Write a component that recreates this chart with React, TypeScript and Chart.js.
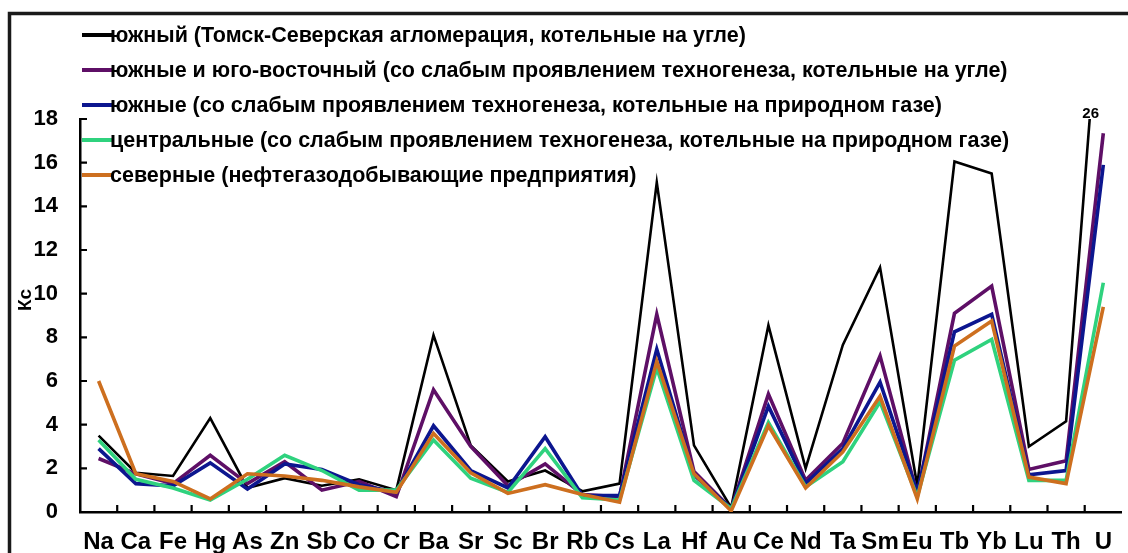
import React, { useEffect, useRef } from "react";
import { Chart, registerables } from "chart.js";

Chart.register(...registerables);

// Elements along the x axis
const elements = [
  "Na", "Ca", "Fe", "Hg", "As", "Zn", "Sb", "Co", "Cr", "Ba", "Sr", "Sc", "Br", "Rb",
  "Cs", "La", "Hf", "Au", "Ce", "Nd", "Ta", "Sm", "Eu", "Tb", "Yb", "Lu", "Th", "U",
];

// Concentration coefficients (Кс) per zone
const southTomsk = [
  3.5, 1.8, 1.65, 4.3, 1.1, 1.55, 1.2, 1.5, 1.0, 8.1, 3.05, 1.4, 1.9, 0.95,
  1.3, 15.1, 3.05, 0.2, 8.55, 2.0, 7.65, 11.2, 1.2, 16.05, 15.5, 3.0, 4.15, 26,
];
const southEastCoal = [
  2.45, 1.75, 1.3, 2.6, 1.3, 2.3, 1.0, 1.4, 0.7, 5.6, 3.0, 1.2, 2.2, 0.8,
  0.7, 9.05, 1.85, 0.15, 5.4, 1.45, 3.15, 7.15, 0.8, 9.1, 10.35, 1.95, 2.35, 17.35,
];
const southGas = [
  2.9, 1.3, 1.2, 2.25, 1.05, 2.2, 1.95, 1.25, 0.9, 3.95, 1.9, 1.1, 3.45, 0.75,
  0.75, 7.45, 1.7, 0.15, 4.85, 1.3, 2.9, 5.95, 0.9, 8.25, 9.05, 1.7, 1.9, 15.9,
];
const centralGas = [
  3.3, 1.5, 1.1, 0.55, 1.5, 2.6, 1.9, 1.0, 1.0, 3.3, 1.55, 0.9, 2.9, 0.65,
  0.55, 6.6, 1.45, 0.15, 4.1, 1.15, 2.3, 5.05, 0.7, 6.95, 7.9, 1.45, 1.45, 10.5,
];
const northOil = [
  6.0, 1.75, 1.4, 0.6, 1.75, 1.65, 1.45, 1.15, 0.9, 3.6, 1.8, 0.85, 1.25, 0.8,
  0.45, 6.9, 1.75, 0.05, 3.95, 1.1, 2.75, 5.3, 0.6, 7.6, 8.75, 1.6, 1.3, 9.4,
];

const seriesLabels = [
  "южный (Томск-Северская агломерация, котельные на угле)",
  "южные и юго-восточный (со слабым проявлением техногенеза, котельные на угле)",
  "южные (со слабым проявлением техногенеза, котельные на природном газе)",
  "центральные (со слабым проявлением техногенеза, котельные на природном газе)",
  "северные (нефтегазодобывающие предприятия)",
];
const seriesData = [southTomsk, southEastCoal, southGas, centralGas, northOil];
const seriesColors = ["#000000", "#5e0f66", "#0c168f", "#2fd27e", "#cd6f1f"];
const seriesWidths = [2.6, 3.6, 3.6, 3.6, 3.6];

const yMax = 18;
const yStep = 2;
const axisTitle = "Кс";

const FONT = "'Liberation Sans', Arial, sans-serif";

const decorPlugin = {
  id: "decor",
  beforeDraw(chart: any) {
    const ctx = chart.ctx;
    ctx.save();
    ctx.fillStyle = "#ffffff";
    ctx.fillRect(0, 0, chart.width, chart.height);
    // outer frame (top and left edges visible)
    ctx.strokeStyle = "#1a1a1a";
    ctx.lineWidth = 3.5;
    ctx.beginPath();
    ctx.moveTo(9.5, chart.height + 5);
    ctx.lineTo(9.5, 13.5);
    ctx.lineTo(chart.width + 5, 13.5);
    ctx.stroke();
    ctx.restore();
  },
  afterDraw(chart: any) {
    const ctx = chart.ctx;
    const area = chart.chartArea;
    const xs = chart.scales.x;
    const ys = chart.scales.y;
    ctx.save();

    // inward tick marks
    ctx.strokeStyle = "#000";
    ctx.lineWidth = 2.2;
    ctx.beginPath();
    for (let i = 1; i < elements.length; i++) {
      const px = (xs.getPixelForValue(i - 1) + xs.getPixelForValue(i)) / 2;
      ctx.moveTo(px, area.bottom);
      ctx.lineTo(px, area.bottom - 7);
    }
    for (let v = yStep; v <= yMax; v += yStep) {
      const py = ys.getPixelForValue(v);
      ctx.moveTo(area.left, py);
      ctx.lineTo(area.left + 7, py);
    }
    ctx.stroke();

    // value label where the off-scale series leaves the plot
    const last = elements.length - 1;
    const vPrev = southTomsk[last - 1];
    const vLast = southTomsk[last];
    if (vLast > yMax) {
      const x0 = xs.getPixelForValue(last - 1);
      const x1 = xs.getPixelForValue(last);
      const xc = x0 + ((x1 - x0) * (yMax - vPrev)) / (vLast - vPrev);
      ctx.fillStyle = "#000";
      ctx.font = `bold 15px ${FONT}`;
      ctx.textAlign = "center";
      ctx.textBaseline = "alphabetic";
      ctx.fillText(String(vLast), xc + 1, area.top - 1);
    }

    // y-axis title
    ctx.save();
    ctx.translate(26, 300);
    ctx.rotate(-Math.PI / 2);
    ctx.font = `bold 19px ${FONT}`;
    ctx.fillStyle = "#000";
    ctx.textAlign = "center";
    ctx.textBaseline = "middle";
    ctx.fillText(axisTitle, 0, 0);
    ctx.restore();

    // legend
    ctx.font = `bold 21.5px ${FONT}`;
    ctx.textAlign = "left";
    ctx.textBaseline = "middle";
    seriesLabels.forEach((label, i) => {
      const y = 35 + i * 35;
      ctx.strokeStyle = seriesColors[i];
      ctx.lineWidth = 4;
      ctx.beginPath();
      ctx.moveTo(82, y);
      ctx.lineTo(112, y);
      ctx.stroke();
      ctx.fillStyle = "#000";
      ctx.fillText(label, 110, y + 1);
    });

    ctx.restore();
  },
};

export default function App() {
  const canvasRef = useRef<HTMLCanvasElement | null>(null);

  useEffect(() => {
    const canvas = canvasRef.current;
    if (!canvas) return;
    const chart = new Chart(canvas, {
      type: "line",
      data: {
        labels: elements,
        datasets: seriesData.map((d, i) => ({
          label: seriesLabels[i],
          data: d,
          borderColor: seriesColors[i],
          backgroundColor: seriesColors[i],
          borderWidth: seriesWidths[i],
          pointRadius: 0,
          tension: 0,
          fill: false,
          order: seriesData.length - i,
        })),
      },
      options: {
        responsive: false,
        animation: false,
        layout: { padding: { top: 119, left: 0, right: 1, bottom: 0 } },
        plugins: {
          legend: { display: false },
          tooltip: { enabled: false },
        },
        scales: {
          x: {
            type: "category",
            offset: true,
            grid: { display: true, drawOnChartArea: false, drawTicks: false, offset: true },
            border: { display: true, color: "#000", width: 2.5 },
            ticks: {
              color: "#000",
              font: { family: FONT, size: 24, weight: "bold" },
              padding: 16,
              maxRotation: 0,
              autoSkip: false,
            },
            afterFit: (scale: any) => {
              scale.height = 41;
            },
          },
          y: {
            min: 0,
            max: yMax,
            grid: { display: true, drawOnChartArea: false, drawTicks: false },
            border: { display: true, color: "#000", width: 2.5 },
            ticks: {
              stepSize: yStep,
              color: "#000",
              font: { family: FONT, size: 22, weight: "bold" },
              padding: 22,
            },
            afterFit: (scale: any) => {
              scale.width = 80;
            },
          },
        },
      },
      plugins: [decorPlugin],
    });
    return () => chart.destroy();
  }, []);

  return (
    <div style={{ position: "fixed", left: 0, top: 0, width: 1128, height: 553, background: "#fff" }}>
      <canvas ref={canvasRef} width={1128} height={553} style={{ width: 1128, height: 553, display: "block" }} />
    </div>
  );
}
